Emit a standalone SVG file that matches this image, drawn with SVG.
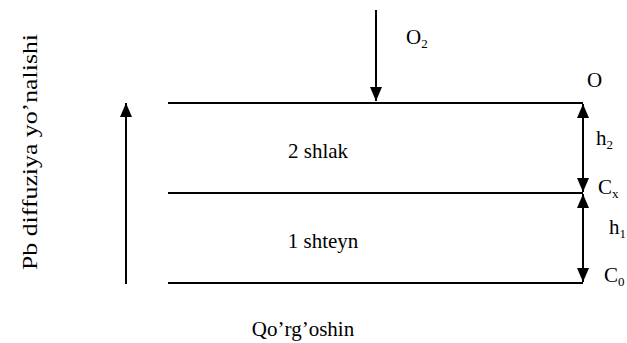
<svg xmlns="http://www.w3.org/2000/svg" width="627" height="343" viewBox="0 0 627 343">
<defs>
<marker id="ah" viewBox="0 0 14 12" refX="14" refY="6" markerWidth="14" markerHeight="12" markerUnits="userSpaceOnUse" orient="auto-start-reverse"><path d="M0,0 L14,6 L0,12 Z" fill="#000"/></marker>
</defs>
<style>
.t{font-family:'Times New Roman','Liberation Serif','DejaVu Serif',serif;font-size:21px;fill:#000}
.sub{font-size:13px}
line{stroke:#000;stroke-width:2}
</style>
<rect width="627" height="343" fill="#fff"/>
<g id="layers">
<line x1="168" y1="103" x2="583" y2="103"/>
<line x1="168" y1="193" x2="583" y2="193"/>
<line x1="168" y1="283" x2="583" y2="283"/>
</g>
<g id="connectors">
<line x1="376" y1="10" x2="376" y2="101" marker-end="url(#ah)"/>
<line x1="583" y1="104" x2="583" y2="192" marker-start="url(#ah)" marker-end="url(#ah)"/>
<line x1="583" y1="194" x2="583" y2="282" marker-start="url(#ah)" marker-end="url(#ah)"/>
<line x1="126" y1="284" x2="126" y2="103" marker-end="url(#ah)"/>
</g>
<g id="labels">
<text class="t" x="406" y="44">O<tspan class="sub" dy="4">2</tspan></text>
<text class="t" x="587" y="87">O</text>
<text class="t" x="596" y="145">h<tspan class="sub" dy="4">2</tspan></text>
<text class="t" x="598" y="194">C<tspan class="sub" dy="4">x</tspan></text>
<text class="t" x="609" y="234">h<tspan class="sub" dy="4">1</tspan></text>
<text class="t" x="604" y="282">C<tspan class="sub" dy="4">0</tspan></text>
<text class="t" x="318" y="158" text-anchor="middle">2 shlak</text>
<text class="t" x="323" y="248" text-anchor="middle">1 shteyn</text>
<text class="t" x="303" y="336" text-anchor="middle">Qo’rg’oshin</text>
<text class="t" transform="translate(37,152) rotate(-90)" text-anchor="middle" textLength="236" lengthAdjust="spacingAndGlyphs" style="font-size:22px">Pb diffuziya yo’nalishi</text>
</g>
</svg>
